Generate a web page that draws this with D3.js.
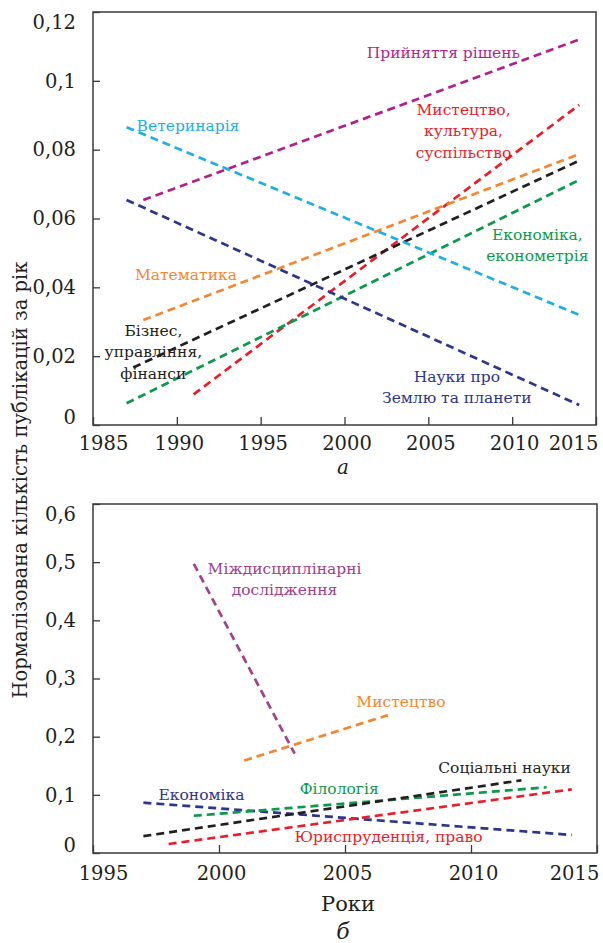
<!DOCTYPE html>
<html>
<head>
<meta charset="utf-8">
<script src="https://cdn.jsdelivr.net/npm/d3@7"></script>
<style>
  html, body { margin: 0; padding: 0; background: #fff; }
  svg { display: block; }
  text { font-family: "DejaVu Serif", "Liberation Serif", serif; }
</style>
</head>
<body>
<svg id="chart" width="603" height="943"></svg>
<script>
// ---- Panel a: publication share trends, 1987–2014 ----
const topSeries = ["Прийняття рішень", "Мистецтво, культура, суспільство", "Математика",
  "Бізнес, управління, фінанси", "Економіка, економетрія", "Ветеринарія", "Науки про Землю та планети"];
const topYears = [[1988, 2014], [1991, 2014], [1988, 2014], [1987.4, 2014], [1987, 2014], [1987, 2014], [1987, 2014]];
const topValues = [[0.0654, 0.112], [0.0089, 0.093], [0.0305, 0.0787], [0.0167, 0.0768],
  [0.0063, 0.0712], [0.0865, 0.032], [0.0654, 0.0058]];
const topXTicks = [1985, 1990, 1995, 2000, 2005, 2010, 2015];
const topYTicks = [0, 0.02, 0.04, 0.06, 0.08, 0.1, 0.12];

// ---- Panel б: normalised counts, 1997–2014 ----
const bottomSeries = ["Міждисциплінарні дослідження", "Мистецтво", "Економіка", "Філологія",
  "Соціальні науки", "Юриспруденція, право"];
const bottomYears = [[1999, 2003], [2001, 2006.7], [1997, 2014], [1999, 2013], [1997, 2012], [1998, 2014]];
const bottomValues = [[0.497, 0.171], [0.159, 0.237], [0.0865, 0.031], [0.064, 0.113], [0.029, 0.125], [0.0155, 0.1095]];
const bottomXTicks = [1995, 2000, 2005, 2010, 2015];
const bottomYTicks = [0, 0.1, 0.2, 0.3, 0.4, 0.5, 0.6];

// Colours per series
const topColors = ["#b41f8e", "#ec1c2a", "#f5862e", "#231f20", "#0b9a4c", "#1cb0ea", "#2c3591"];
const bottomColors = ["#a3408b", "#f5862e", "#2c3591", "#0b9a4c", "#231f20", "#ec1c2a"];

// Label placement in data units: [year, value, anchor]
const topLabelPos = [[2005.9, 0.1066, "middle"], [2007.1, 0.0902, "middle"], [1987.5, 0.0421, "start"],
  [1988.6, 0.0259, "middle"], [2011.5, 0.0538, "middle"], [1987.6, 0.0854, "start"], [2006.7, 0.0125, "middle"]];
const bottomLabelPos = [[2002.6, 0.480, "middle"], [2005.45, 0.251, "start"], [1997.6, 0.0910, "start"],
  [2003.2, 0.102, "start"], [2008.7, 0.137, "start"], [2003.0, 0.0194, "start"]];
const topLabelLines = [["Прийняття рішень"], ["Мистецтво,", "культура,", "суспільство"], ["Математика"],
  ["Бізнес,", "управління,", "фінанси"], ["Економіка,", "економетрія"], ["Ветеринарія"], ["Науки про", "Землю та планети"]];
const bottomLabelLines = [["Міждисциплінарні", "дослідження"], ["Мистецтво"], ["Економіка"], ["Філологія"],
  ["Соціальні науки"], ["Юриспруденція, право"]];

const svg = d3.select("#chart");
const fmt = d => d === 0 ? "0" : String(d).replace(".", ",");

function panel(opts) {
  const x = d3.scaleLinear().domain(opts.xDomain).range([opts.left, opts.right]);
  const y = d3.scaleLinear().domain(opts.yDomain).range([opts.bottom, opts.top]);
  const g = svg.append("g");

  // series lines
  const line = d3.line().x(d => x(d[0])).y(d => y(d[1]));
  opts.years.forEach((yr, i) => {
    const pts = yr.map((t, k) => [t, opts.values[i][k]]);
    g.append("path").attr("d", line(pts))
      .attr("fill", "none").attr("stroke", opts.colors[i])
      .attr("stroke-width", 2.7).attr("stroke-dasharray", "8,5");
  });

  // frame
  g.append("rect").attr("x", opts.left).attr("y", opts.top)
    .attr("width", opts.right - opts.left).attr("height", opts.bottom - opts.top)
    .attr("fill", "none").attr("stroke", "#3a3a3a").attr("stroke-width", 1.5);

  // axes with inward ticks
  const xAxis = d3.axisBottom(x).tickValues(opts.xTicks).tickSize(-8).tickPadding(opts.xPad).tickFormat(d3.format("d"));
  const gx = g.append("g").attr("transform", `translate(0,${opts.bottom})`).call(xAxis);
  const yAxis = d3.axisLeft(y).tickValues(opts.yTicks).tickSize(-7).tickPadding(17).tickFormat(fmt);
  const gy = g.append("g").attr("transform", `translate(${opts.left},0)`).call(yAxis);
  [gx, gy].forEach(a => {
    a.select(".domain").remove();
    a.selectAll(".tick line").attr("stroke", "#3a3a3a").attr("stroke-width", 1.3);
    a.selectAll(".tick text").attr("fill", "#231f20").attr("font-size", 19.5)
      .attr("font-family", "DejaVu Serif");
  });
  // keep the end tick labels inside the frame
  const nx = opts.xTicks.length;
  gx.selectAll(".tick text").attr("dx", (d, i) => i === 0 ? 10 : (i === nx - 1 ? -23 : 2));
  const ny = opts.yTicks.length;
  gy.selectAll(".tick text").attr("dy", (d, i) => i === 0 ? "-0.08em" : (i === ny - 1 ? "0.85em" : "0.32em"));

  // series labels
  opts.labelPos.forEach((p, i) => {
    const t = g.append("text").attr("x", x(p[0])).attr("y", y(p[1]))
      .attr("text-anchor", p[2]).attr("fill", opts.colors[i]).attr("font-size", 15.5);
    opts.labelLines[i].forEach((s, k) => {
      t.append("tspan").attr("x", x(p[0])).attr("dy", k === 0 ? 0 : 21.5).text(s);
    });
  });
  return { x, y };
}

panel({ left: 93, right: 596, top: 12, bottom: 425, xDomain: [1985, 2015], yDomain: [0, 0.12], xPad: 11,
  years: topYears, values: topValues, colors: topColors, xTicks: topXTicks, yTicks: topYTicks,
  labelPos: topLabelPos, labelLines: topLabelLines });

panel({ left: 93, right: 597, top: 504, bottom: 853, xDomain: [1995, 2015], yDomain: [0, 0.6], xPad: 13,
  years: bottomYears, values: bottomValues, colors: bottomColors, xTicks: bottomXTicks, yTicks: bottomYTicks,
  labelPos: bottomLabelPos, labelLines: bottomLabelLines });

// panel captions and axis titles
svg.append("text").attr("x", 343).attr("y", 474).attr("text-anchor", "middle")
  .attr("font-size", 20).attr("font-style", "italic").attr("fill", "#231f20").text("а");
svg.append("text").attr("x", 343).attr("y", 939).attr("text-anchor", "middle")
  .attr("font-size", 22).attr("font-style", "italic").attr("fill", "#231f20").text("б");
svg.append("text").attr("x", 348).attr("y", 911).attr("text-anchor", "middle")
  .attr("font-size", 21).attr("fill", "#231f20").text("Роки");
svg.append("text").attr("transform", "translate(27,480) rotate(-90)").attr("text-anchor", "middle")
  .attr("font-size", 19.5).attr("fill", "#231f20").text("Нормалізована кількість публікацій за рік");
</script>
</body>
</html>
